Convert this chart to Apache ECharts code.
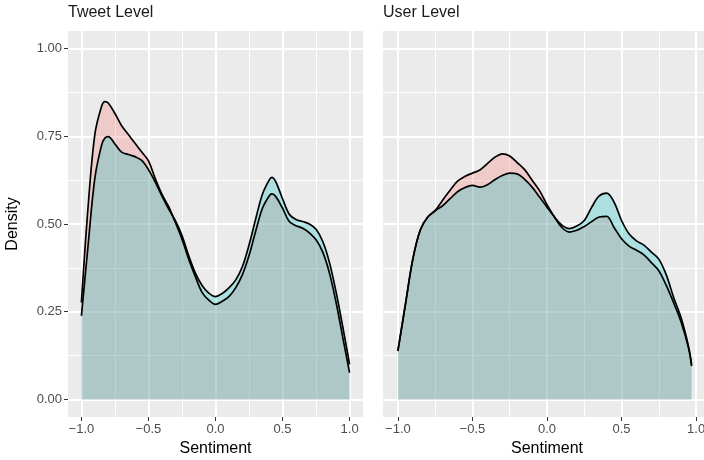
<!DOCTYPE html>
<html>
<head>
<meta charset="utf-8">
<title>Sentiment density</title>
<script src="https://cdn.jsdelivr.net/npm/echarts@6/dist/echarts.min.js"></script>
<style>
  html, body { margin: 0; padding: 0; background: #fff; }
  #chart { width: 704px; height: 460px; }
</style>
</head>
<body>
<div id="chart"></div>
<script>
// Kernel density estimates of sentiment, two groups per panel.
const tweetSentiment = [-1.00, -0.95, -0.90, -0.85, -0.825, -0.80, -0.75, -0.70, -0.65, -0.60, -0.55, -0.50, -0.45, -0.40, -0.35, -0.30, -0.25, -0.20, -0.15, -0.10, -0.05, 0.00, 0.05, 0.10, 0.15, 0.20, 0.25, 0.30, 0.35, 0.40, 0.42, 0.45, 0.50, 0.55, 0.60, 0.65, 0.70, 0.75, 0.80, 0.85, 0.90, 0.95, 1.00];
const tweetGroupA = [0.276, 0.55, 0.755, 0.835, 0.849, 0.845, 0.815, 0.78, 0.755, 0.73, 0.705, 0.68, 0.63, 0.585, 0.55, 0.505, 0.457, 0.40, 0.35, 0.305, 0.283, 0.271, 0.28, 0.293, 0.318, 0.355, 0.41, 0.48, 0.545, 0.58, 0.586, 0.578, 0.545, 0.507, 0.495, 0.488, 0.475, 0.455, 0.42, 0.36, 0.275, 0.175, 0.076];
const tweetGroupB = [0.238, 0.44, 0.63, 0.724, 0.745, 0.749, 0.728, 0.705, 0.698, 0.692, 0.681, 0.655, 0.62, 0.58, 0.543, 0.51, 0.467, 0.41, 0.36, 0.325, 0.303, 0.293, 0.302, 0.318, 0.34, 0.378, 0.44, 0.515, 0.585, 0.625, 0.633, 0.62, 0.572, 0.528, 0.513, 0.507, 0.50, 0.485, 0.45, 0.39, 0.305, 0.205, 0.10];

const userSentiment = [-1.00, -0.95, -0.90, -0.85, -0.80, -0.75, -0.70, -0.65, -0.60, -0.55, -0.50, -0.45, -0.40, -0.35, -0.30, -0.25, -0.20, -0.15, -0.10, -0.05, 0.00, 0.05, 0.10, 0.15, 0.20, 0.25, 0.30, 0.35, 0.40, 0.45, 0.50, 0.55, 0.60, 0.65, 0.70, 0.75, 0.80, 0.85, 0.90, 0.95, 0.97];
const userGroupA = [0.138, 0.27, 0.40, 0.483, 0.52, 0.538, 0.568, 0.596, 0.622, 0.636, 0.645, 0.654, 0.672, 0.69, 0.70, 0.694, 0.675, 0.655, 0.625, 0.595, 0.555, 0.52, 0.49, 0.477, 0.482, 0.493, 0.507, 0.52, 0.522, 0.49, 0.458, 0.437, 0.425, 0.412, 0.39, 0.367, 0.325, 0.275, 0.22, 0.145, 0.095];
const userGroupB = [0.14, 0.27, 0.40, 0.483, 0.52, 0.538, 0.552, 0.572, 0.592, 0.604, 0.61, 0.605, 0.612, 0.626, 0.638, 0.645, 0.643, 0.627, 0.605, 0.577, 0.548, 0.52, 0.497, 0.487, 0.494, 0.51, 0.548, 0.58, 0.588, 0.562, 0.51, 0.472, 0.452, 0.44, 0.42, 0.40, 0.355, 0.29, 0.232, 0.15, 0.10];

const xTicks = [-1, -0.5, 0, 0.5, 1];
const xMinorTicks = [-0.75, -0.25, 0.25, 0.75];
const yTicks = [0, 0.25, 0.5, 0.75, 1];
const yMinorTicks = [0.125, 0.375, 0.625, 0.875];

const panelTitles = ['Tweet Level', 'User Level'];
const xTitle = 'Sentiment';
const yTitle = 'Density';

const FONT = '"Liberation Sans", Arial, Helvetica, sans-serif';
const fillA = 'rgba(248,118,109,0.27)';
const fillB = 'rgba(0,191,196,0.27)';

const pairs = (xs, ys) => xs.map((x, i) => [x, ys[i]]);
const fmtX = v => v.toFixed(1).replace('-', '\u2212');
const fmtY = v => v.toFixed(2);

function majorX(gridIndex) {
  return {
    type: 'value', gridIndex, min: -1.1, max: 1.1, position: 'bottom',
    axisLine: { show: false, onZero: false },
    axisTick: { show: true, length: 4, customValues: xTicks, lineStyle: { color: '#333333', width: 1 } },
    axisLabel: { customValues: xTicks, formatter: fmtX, color: '#4D4D4D', fontSize: 13, margin: 6, fontFamily: FONT },
    splitLine: { show: true, lineStyle: { color: '#FFFFFF', width: 2 } },
    name: xTitle, nameLocation: 'middle', nameGap: 24,
    nameTextStyle: { fontSize: 16, color: '#000000', fontFamily: FONT }
  };
}
function minorX(gridIndex) {
  return {
    type: 'value', gridIndex, min: -1.1, max: 1.1, position: 'bottom',
    axisLine: { show: false, onZero: false },
    axisTick: { show: false, customValues: xMinorTicks },
    axisLabel: { show: false, customValues: xMinorTicks },
    splitLine: { show: true, lineStyle: { color: '#FFFFFF', width: 1 } }
  };
}
function majorY(gridIndex, withLabels) {
  return {
    type: 'value', gridIndex, min: -0.05, max: 1.05, position: 'left',
    axisLine: { show: false, onZero: false },
    axisTick: { show: withLabels, length: 4, customValues: yTicks, lineStyle: { color: '#333333', width: 1 } },
    axisLabel: { show: withLabels, customValues: yTicks, formatter: fmtY, color: '#4D4D4D', fontSize: 13, margin: 6, fontFamily: FONT },
    splitLine: { show: true, lineStyle: { color: '#FFFFFF', width: 2 } },
    name: withLabels ? yTitle : '', nameLocation: 'middle', nameGap: 47, nameRotate: 90,
    nameTextStyle: { fontSize: 16, color: '#000000', fontFamily: FONT }
  };
}
function minorY(gridIndex) {
  return {
    type: 'value', gridIndex, min: -0.05, max: 1.05, position: 'left',
    axisLine: { show: false, onZero: false },
    axisTick: { show: false, customValues: yMinorTicks },
    axisLabel: { show: false, customValues: yMinorTicks },
    splitLine: { show: true, lineStyle: { color: '#FFFFFF', width: 1 } }
  };
}

function density(name, xs, ys, axisIndex, fill) {
  return {
    name, type: 'line', xAxisIndex: axisIndex, yAxisIndex: axisIndex,
    data: pairs(xs, ys), smooth: 0.35, showSymbol: false, symbol: 'none',
    lineStyle: { color: '#000000', width: 1.7 },
    areaStyle: { color: fill, opacity: 1 },
    emphasis: { disabled: true }
  };
}

const chart = echarts.init(document.getElementById('chart'), null, { renderer: 'canvas' });
chart.setOption({
  animation: false,
  backgroundColor: '#FFFFFF',
  textStyle: { fontFamily: FONT },
  title: [
    { text: panelTitles[0], left: 68, top: 5, padding: 0, textStyle: { fontSize: 16, fontWeight: 'normal', color: '#1A1A1A', fontFamily: FONT } },
    { text: panelTitles[1], left: 383, top: 5, padding: 0, textStyle: { fontSize: 16, fontWeight: 'normal', color: '#1A1A1A', fontFamily: FONT } }
  ],
  grid: [
    { left: 68, top: 31, width: 295, height: 386, show: true, backgroundColor: '#EBEBEB', borderWidth: 0, outerBoundsMode: 'none', containLabel: false },
    { left: 383, top: 31, width: 328, height: 386, show: true, backgroundColor: '#EBEBEB', borderWidth: 0, outerBoundsMode: 'none', containLabel: false }
  ],
  xAxis: [majorX(0), majorX(1), minorX(0), minorX(1)],
  yAxis: [majorY(0, true), majorY(1, false), minorY(0), minorY(1)],
  series: [
    density('A', tweetSentiment, tweetGroupA, 0, fillA),
    density('B', tweetSentiment, tweetGroupB, 0, fillB),
    density('A', userSentiment, userGroupA, 1, fillA),
    density('B', userSentiment, userGroupB, 1, fillB)
  ]
});
</script>
</body>
</html>
